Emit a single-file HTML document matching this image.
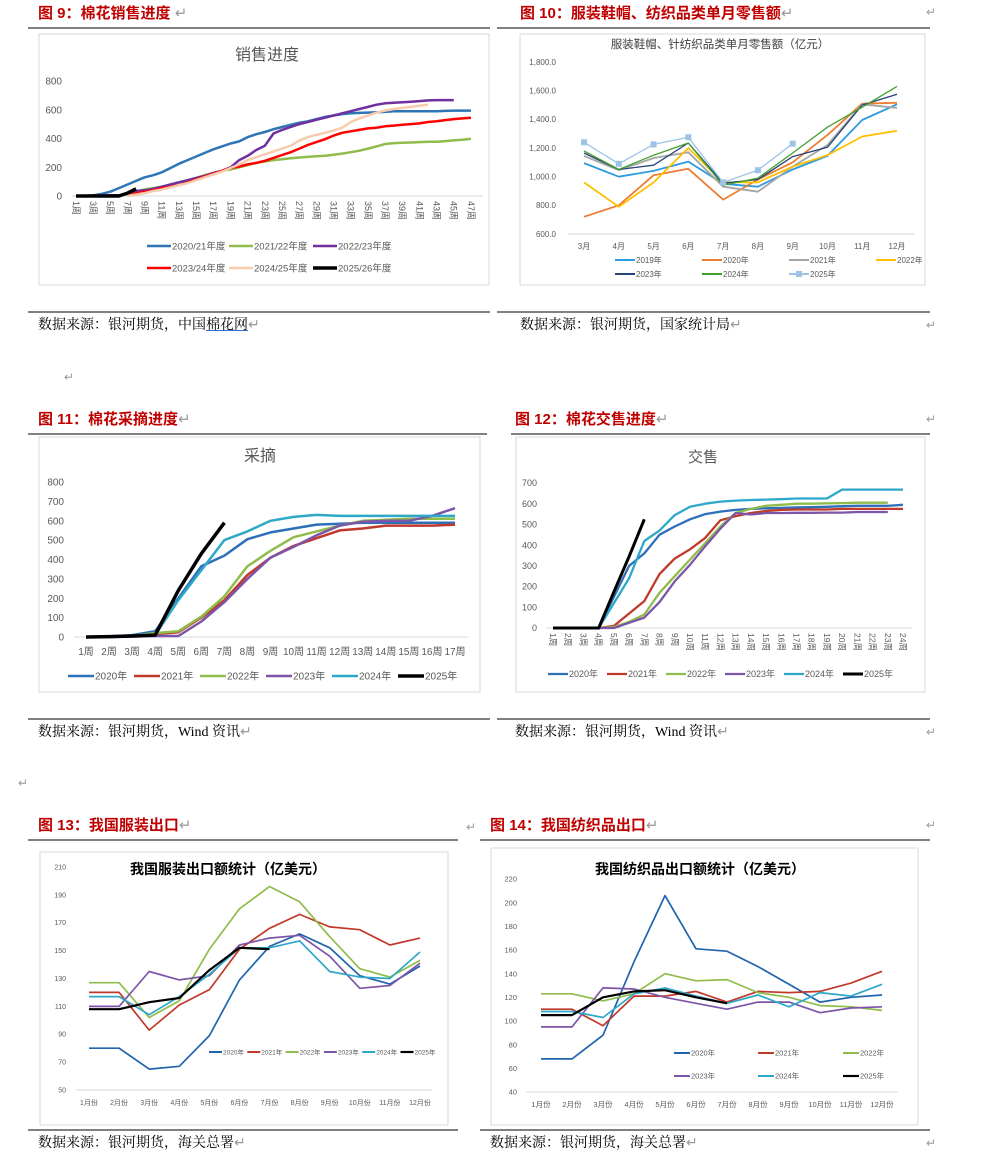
<!DOCTYPE html>
<html><head><meta charset="utf-8"><style>
body{margin:0;width:993px;height:1158px;background:#fff;position:relative;overflow:hidden;font-family:"Liberation Sans","Noto Sans CJK SC",sans-serif}
.h{position:absolute;color:#c00000;font-weight:bold;font-size:15px;line-height:18px;white-space:nowrap}
.s{position:absolute;color:#000;font-size:14px;line-height:16px;white-space:nowrap;font-family:"Liberation Serif","Noto Serif CJK SC",serif}
.r{position:absolute;color:#999;font-size:12px}
svg{position:absolute;left:0;top:0}
</style></head><body>
<div class="h" style="left:38px;top:5px">图 9：棉花销售进度 <span style="color:#999;font-weight:normal">↵</span></div>
<div class="h" style="left:520px;top:5px">图 10：服装鞋帽、纺织品类单月零售额<span style="color:#999;font-weight:normal">↵</span></div>
<div class="h" style="left:38px;top:411px">图 11：棉花采摘进度<span style="color:#999;font-weight:normal">↵</span></div>
<div class="h" style="left:515px;top:411px">图 12：棉花交售进度<span style="color:#999;font-weight:normal">↵</span></div>
<div class="h" style="left:38px;top:817px">图 13：我国服装出口<span style="color:#999;font-weight:normal">↵</span></div>
<div class="h" style="left:490px;top:817px">图 14：我国纺织品出口<span style="color:#999;font-weight:normal">↵</span></div>
<div class="s" style="left:38px;top:318px">数据来源：银河期货，中国<u style="color:#000;text-decoration-color:#2f6fd6">棉花网</u><span style="color:#999">↵</span></div>
<div class="s" style="left:520px;top:318px">数据来源：银河期货，国家统计局<span style="color:#999">↵</span></div>
<div class="s" style="left:38px;top:725px">数据来源：银河期货，Wind 资讯<span style="color:#999">↵</span></div>
<div class="s" style="left:515px;top:725px">数据来源：银河期货，Wind 资讯<span style="color:#999">↵</span></div>
<div class="s" style="left:38px;top:1136px">数据来源：银河期货，海关总署<span style="color:#999">↵</span></div>
<div class="s" style="left:490px;top:1136px">数据来源：银河期货，海关总署<span style="color:#999">↵</span></div>
<div class="r" style="left:64px;top:370px">↵</div>
<div class="r" style="left:18px;top:776px">↵</div>
<div class="r" style="left:466px;top:820px">↵</div>
<div class="r" style="left:926px;top:5px">↵</div>
<div class="r" style="left:926px;top:318px">↵</div>
<div class="r" style="left:926px;top:412px">↵</div>
<div class="r" style="left:926px;top:725px">↵</div>
<div class="r" style="left:926px;top:818px">↵</div>
<div class="r" style="left:926px;top:1136px">↵</div>
<svg id="svg" width="993" height="1158" xmlns="http://www.w3.org/2000/svg"></svg>
<script>
// ---- Chart 9 data ----
const c9Names=["2020/21年度","2021/22年度","2022/23年度","2023/24年度","2024/25年度","2025/26年度"];
const c9Ticks=[0,200,400,600,800];
const c9A=[0,2,5,15,30,55,80,105,130,145,165,195,225,250,275,300,325,345,365,380,410,430,445,465,480,495,510,520,535,550,560,570,575,578,580,582,585,590,590,590,590,590,590,592,594,594,594];
const c9B=[null,null,null,null,null,null,0,30,45,55,65,80,95,110,125,145,160,175,185,200,215,230,240,250,255,262,268,272,276,280,287,295,305,315,330,345,362,368,370,372,375,377,378,382,387,392,398];
const c9C=[0,2,3,4,5,5,20,35,40,50,65,80,95,110,125,140,160,175,200,250,280,320,350,435,460,480,500,515,530,545,560,575,590,605,620,635,645,648,652,656,660,665,667,667,667];
const c9D=[null,null,null,null,null,null,0,20,30,40,55,65,75,95,115,135,155,175,195,205,220,230,245,265,285,305,330,355,375,395,420,440,450,460,470,475,485,490,495,500,505,515,520,528,535,540,545];
const c9E=[null,null,null,null,null,null,0,10,20,35,45,60,75,90,110,130,150,170,195,220,250,270,290,310,330,350,385,410,425,440,455,475,515,540,560,580,595,605,612,620,628,635];
const c9F=[0,0,0,0,0,0,20,50];
// ---- Chart 10 data ----
const c10Cats=["3月","4月","5月","6月","7月","8月","9月","10月","11月","12月"];
const c10Names=["2019年","2020年","2021年","2022年","2023年","2024年","2025年"];
const c10Ticks=[600,800,1000,1200,1400,1600,1800];
const c10A=[1095,1000,1040,1105,950,930,1050,1145,1395,1505];
const c10B=[720,800,1010,1055,840,980,1100,1290,1510,1515];
const c10C=[1145,1045,1130,1170,930,895,1070,1220,1505,1480];
const c10D=[960,790,960,1200,960,960,1070,1150,1280,1320];
const c10E=[1165,1050,1080,1235,955,980,1140,1205,1500,1575];
const c10F=[1180,1050,1150,1235,940,990,1165,1345,1485,1630];
const c10G=[1240,1090,1225,1275,960,1045,1230];
// ---- Chart 11 data ----
const c11Names=["2020年","2021年","2022年","2023年","2024年","2025年"];
const c11Ticks=[0,100,200,300,400,500,600,700,800];
const c11A=[0,3,10,30,200,365,420,505,540,560,580,585,590,590,590,590,590];
const c11B=[0,2,5,15,25,100,190,320,410,470,510,550,560,575,575,575,580];
const c11C=[0,2,5,20,30,105,210,365,445,515,545,575,600,605,610,610,610];
const c11D=[0,0,2,5,5,80,180,300,410,465,525,575,595,600,600,625,665];
const c11E=[0,2,5,10,190,345,500,545,600,620,630,625,625,625,625,625,625];
const c11F=[0,2,5,10,240,430,590];
// ---- Chart 12 data ----
const c12Names=["2020年","2021年","2022年","2023年","2024年","2025年"];
const c12Ticks=[0,100,200,300,400,500,600,700];
const c12A=[0,0,0,0,150,300,360,450,490,525,550,562,570,575,578,580,582,583,585,588,590,590,590,595];
const c12B=[0,0,0,0,10,70,130,260,335,380,435,520,540,555,565,570,572,572,572,575,575,575,575,575];
const c12C=[0,0,0,0,5,30,65,170,250,330,410,490,555,575,590,595,600,600,602,603,605,605,605];
const c12D=[0,0,0,0,0,25,50,125,225,305,395,480,555,548,555,555,556,556,557,557,560,560,560];
const c12E=[0,0,0,0,120,240,420,470,545,585,600,610,615,618,620,622,625,625,625,668,668,668,668,668];
const c12F=[0,0,0,0,175,345,525];
// ---- Chart 13 data ----
const monthCats=["1月份","2月份","3月份","4月份","5月份","6月份","7月份","8月份","9月份","10月份","11月份","12月份"];
const c13Ticks=[50,70,90,110,130,150,170,190,210];
const c13A=[80,80,65,67,89,129,153,162,152,132,126,139];
const c13B=[120,120,93,111,122,151,166,176,167,165,154,159];
const c13C=[127,127,102,114,151,180,196,185,160,137,131,143];
const c13D=[110,110,135,129,132,154,159,161,146,123,125,141];
const c13E=[117,117,104,117,133,152,152,157,135,131,130,149];
const c13F=[108,108,113,116,136,152,151];
// ---- Chart 14 data ----
const c14Ticks=[40,60,80,100,120,140,160,180,200,220];
const c14A=[68,68,88,150,206,161,159,146,131,116,120,122];
const c14B=[110,110,96,121,121,125,116,125,124,125,132,142];
const c14C=[123,123,117,123,140,134,135,124,120,113,112,109];
const c14D=[95,95,128,127,120,115,110,116,116,107,111,112];
const c14E=[108,108,103,123,128,121,115,122,112,124,121,131];
const c14F=[105,105,120,125,126,120,115];

const NS="http://www.w3.org/2000/svg";
const svg=document.getElementById('svg');
function mk(tag,attrs,parent){const e=document.createElementNS(NS,tag);for(const k in attrs)e.setAttribute(k,attrs[k]);(parent||svg).appendChild(e);return e;}
function txt(x,y,s,attrs,parent){const t=mk('text',Object.assign({x:x,y:y},attrs),parent);t.textContent=s;return t;}

// page rules
[[28,28,490],[497,28,930],[28,312,490],[497,312,930],
 [28,434,487],[511,434,930],[28,719,490],[497,719,930],
 [28,840,458],[480,840,930],[28,1130,458],[480,1130,930]].forEach(l=>{
 const ln=mk('line',{x1:l[0],y1:l[1],x2:l[2],y2:l[1],stroke:'#000','stroke-width':1});
 
 
});

function chart(c){
 const g=mk('g',{});
 
 
 const fr=mk('rect',{x:c.frame[0],y:c.frame[1],width:c.frame[2]-c.frame[0],height:c.frame[3]-c.frame[1],fill:'#fff',stroke:'#d9d9d9','stroke-width':1},g);
 
 
 const tt=txt(c.title[0],c.title[1],c.title[2],{'font-size':c.title[3],'text-anchor':'middle',fill:c.title[4]||'#595959','font-weight':c.title[5]||'normal','font-family':'"Liberation Sans","Noto Sans CJK SC",sans-serif'},g);
 
 
 const n=c.n;
 const X=i=>c.x0+i*(c.x1-c.x0)/(n-1);
 const Y=v=>c.yb+(v-c.ymin)*(c.yt-c.yb)/(c.ymax-c.ymin);
 const ax=mk('line',{x1:c.ax0,y1:Y(c.ymin),x2:c.ax1,y2:Y(c.ymin),stroke:'#d9d9d9','stroke-width':1},g);
 
 
 c.ticks.forEach(v=>{
  const t=txt(c.tickX,Y(v)+c.tfs*0.35,c.fmt?c.fmt(v):String(v),{'font-size':c.tfs,'text-anchor':'end',fill:'#595959'},g);
  
  
 });
 for(let i=0;i<n;i++){
  const lab=c.cat(i); if(lab===null) continue;
  let t;
  if(c.rot){ t=txt(0,0,lab,{'font-size':c.cfs,fill:'#595959',transform:`translate(${X(i)-c.cfs*0.35},${c.catY}) rotate(90)`},g); }
  else { t=txt(X(i),c.catY,lab,{'font-size':c.cfs,'text-anchor':'middle',fill:'#595959'},g); }
  
  
 }
 c.series.forEach((s,k)=>{
  let d='',started=false;
  s.data.forEach((v,i)=>{ if(v===null||v===undefined){started=false;return;} d+=(started?'L':'M')+X(i).toFixed(1)+','+Y(v).toFixed(1); started=true; });
  const p=mk('path',{d:d,fill:'none',stroke:s.color,'stroke-width':s.w,'stroke-linejoin':'round'},g);
  
  
  if(s.marker){ s.data.forEach((v,i)=>{ const m=mk('rect',{x:X(i)-3,y:Y(v)-3,width:6,height:6,fill:s.color},g);
   
    }); }
  const L=c.legend(k);
  const lg=mk('g',{},g);
  
  
  mk('line',{x1:L[0],y1:L[1],x2:L[0]+c.ll,y2:L[1],stroke:s.color,'stroke-width':Math.max(s.w,2)},lg);
  if(s.marker) mk('rect',{x:L[0]+c.ll/2-3,y:L[1]-3,width:6,height:6,fill:s.color},lg);
  txt(L[0]+c.ll+1,L[1]+c.lfs*0.35,s.label,{'font-size':c.lfs,fill:'#595959'},lg);
 });
}
const fmtK=v=>v.toLocaleString('en-US')+'.0';

chart({name:'chart-cotton-sales',frame:[39,34,489,285],title:[267,60,'销售进度',16],n:47,x0:76,x1:471,ax0:72,ax1:483,yb:196,yt:81,ymin:0,ymax:800,
 ticks:c9Ticks,tickX:62,tfs:10,cat:i=>i%2===0?(i+1)+'周':null,catY:201,cfs:9,rot:true,ll:24,lfs:9.5,
 legend:k=>[[147,229,313][k%3],k<3?246:268],
 series:[{label:c9Names[0],data:c9A,color:'#2e75b6',w:2.5},{label:c9Names[1],data:c9B,color:'#8fbc4a',w:2.5},{label:c9Names[2],data:c9C,color:'#7030a0',w:2.5},
 {label:c9Names[3],data:c9D,color:'#ff0000',w:2.5},{label:c9Names[4],data:c9E,color:'#f8cbad',w:2.5},{label:c9Names[5],data:c9F,color:'#000',w:3.5}]});

chart({name:'chart-apparel-retail',frame:[520,34,925,285],title:[720,48,'服装鞋帽、针纺织品类单月零售额（亿元）',11.5,'#404040'],n:10,x0:584,x1:897,ax0:568,ax1:915,yb:234,yt:62,ymin:600,ymax:1800,
 ticks:c10Ticks,tickX:556,tfs:8,fmt:fmtK,cat:i=>c10Cats[i],catY:249,cfs:8,rot:false,ll:20,lfs:8,
 legend:k=>[[615,702,789,876][k%4],k<4?260:274],
 series:[{label:c10Names[0],data:c10A,color:'#2e9be0',w:1.8},{label:c10Names[1],data:c10B,color:'#ed7d31',w:1.8},{label:c10Names[2],data:c10C,color:'#a5a5a5',w:1.8},{label:c10Names[3],data:c10D,color:'#ffc000',w:1.8},
 {label:c10Names[4],data:c10E,color:'#264478',w:1.3},{label:c10Names[5],data:c10F,color:'#43a02f',w:1.3},{label:c10Names[6],data:c10G,color:'#9dc3e6',w:1.3,marker:true}]});

chart({name:'chart-cotton-picking',frame:[39,437,480,692],title:[260,461,'采摘',16],n:17,x0:86,x1:455,ax0:74,ax1:468,yb:637,yt:482,ymin:0,ymax:800,
 ticks:c11Ticks,tickX:64,tfs:10,cat:i=>(i+1)+'周',catY:655,cfs:10,rot:false,ll:26,lfs:10,
 legend:k=>[68+k*66,676],
 series:[{label:c11Names[0],data:c11A,color:'#2e6fba',w:2.5},{label:c11Names[1],data:c11B,color:'#c0392b',w:2.5},{label:c11Names[2],data:c11C,color:'#8fbc4a',w:2.5},
 {label:c11Names[3],data:c11D,color:'#7d55a8',w:2.5},{label:c11Names[4],data:c11E,color:'#2ea8c9',w:2.5},{label:c11Names[5],data:c11F,color:'#000',w:3.5}]});

chart({name:'chart-cotton-delivery',frame:[516,437,925,692],title:[703,462,'交售',15],n:24,x0:553,x1:903,ax0:546,ax1:912,yb:628,yt:483,ymin:0,ymax:700,
 ticks:c12Ticks,tickX:537,tfs:9,cat:i=>(i+1)+'周',catY:633,cfs:8.5,rot:true,ll:20,lfs:9,
 legend:k=>[548+k*59,674],
 series:[{label:c12Names[0],data:c12A,color:'#2e6fba',w:2.3},{label:c12Names[1],data:c12B,color:'#c0392b',w:2.3},{label:c12Names[2],data:c12C,color:'#8fbc4a',w:2.3},
 {label:c12Names[3],data:c12D,color:'#7d55a8',w:2.3},{label:c12Names[4],data:c12E,color:'#2ea8c9',w:2.3},{label:c12Names[5],data:c12F,color:'#000',w:3}]});

chart({name:'chart-apparel-export',frame:[40,852,448,1125],title:[228,874,'我国服装出口额统计（亿美元）',14,'#000','bold'],n:12,x0:89,x1:420,ax0:76,ax1:432,yb:1090,yt:867,ymin:50,ymax:210,
 ticks:c13Ticks,tickX:66,tfs:7,cat:i=>monthCats[i],catY:1105,cfs:7,rot:false,ll:13,lfs:6.5,
 legend:k=>[209+k*38.3,1052],
 series:[{label:'2020年',data:c13A,color:'#1f64ad',w:1.7},{label:'2021年',data:c13B,color:'#c0392b',w:1.7},{label:'2022年',data:c13C,color:'#8fbc4a',w:1.7},
 {label:'2023年',data:c13D,color:'#7d55a8',w:1.7},{label:'2024年',data:c13E,color:'#2ea8c9',w:1.7},{label:'2025年',data:c13F,color:'#000',w:2.2}]});

chart({name:'chart-textile-export',frame:[491,848,918,1125],title:[700,874,'我国纺织品出口额统计（亿美元）',14,'#000','bold'],n:12,x0:541,x1:882,ax0:526,ax1:898,yb:1092,yt:879,ymin:40,ymax:220,
 ticks:c14Ticks,tickX:517,tfs:7.5,cat:i=>monthCats[i],catY:1107,cfs:7.5,rot:false,ll:16,lfs:7.5,
 legend:k=>[[674,758,843][k%3],k<3?1053:1076],
 series:[{label:'2020年',data:c14A,color:'#1f64ad',w:1.7},{label:'2021年',data:c14B,color:'#c0392b',w:1.7},{label:'2022年',data:c14C,color:'#8fbc4a',w:1.7},
 {label:'2023年',data:c14D,color:'#7d55a8',w:1.7},{label:'2024年',data:c14E,color:'#2ea8c9',w:1.7},{label:'2025年',data:c14F,color:'#000',w:2.2}]});
</script>
</body></html>
